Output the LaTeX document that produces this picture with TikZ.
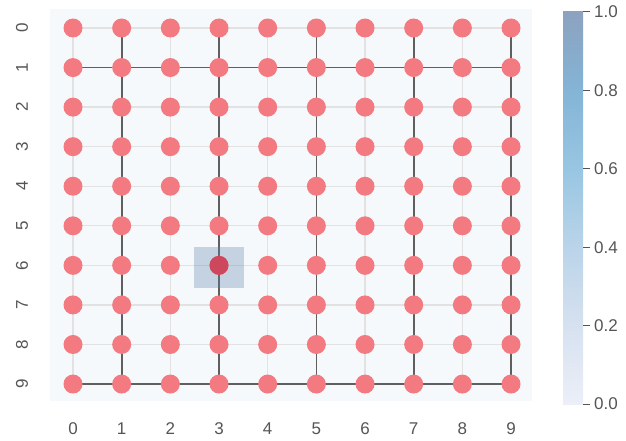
\documentclass[tikz,border=0pt]{standalone}
\usepackage{fontspec}
\setmainfont{Liberation Sans}
\definecolor{dotred}{RGB}{242,122,128}
\definecolor{dotdark}{RGB}{205,72,92}
\definecolor{lightgrid}{RGB}{226,226,226}
\definecolor{darkgrid}{RGB}{95,95,95}
\definecolor{bgblue}{RGB}{246,249,252}
\definecolor{hlblue}{RGB}{95,130,170}
\definecolor{labelgray}{RGB}{85,85,85}
\definecolor{cA}{RGB}{236,239,248}
\definecolor{cB}{RGB}{214,225,240}
\definecolor{cC}{RGB}{186,212,233}
\definecolor{cD}{RGB}{152,198,226}
\definecolor{cE}{RGB}{132,180,214}
\definecolor{cF}{RGB}{140,162,192}
\pgfdeclareverticalshading{cbar}{100bp}{color(0bp)=(cA); color(25bp)=(cA); color(35bp)=(cB); color(45bp)=(cC); color(55bp)=(cD); color(65bp)=(cE); color(75bp)=(cF); color(100bp)=(cF)}
\pgfdeclarelayer{bg}
\pgfdeclarelayer{lines}
\pgfsetlayers{bg,lines,main}
\begin{document}
\begin{tikzpicture}[x=1pt,y=-1pt,
  dot/.style={circle, fill=dotred, inner sep=0pt, minimum size=19pt},
  lightline/.style={draw=lightgrid, line width=1.3pt},
  darkline/.style={draw=darkgrid, line width=1.7pt},
  ticklab/.style={font=\fontsize{17}{17}\selectfont, text=labelgray, inner sep=0pt},
  cbtick/.style={draw=labelgray, line width=1pt}]
\useasboundingbox (0,0) rectangle (626,441);
% nodes
\foreach \r in {0,...,9} {
  \foreach \c in {0,...,9} {
    \node[dot] (n\r\c) at ({73+48.67*\c},{28+39.56*\r}) {};
  }
}
\node[dot, fill=dotdark] at (n63) {};
\begin{pgfonlayer}{bg}
  \fill[bgblue] (50,9) rectangle (532,401);
\end{pgfonlayer}
\begin{pgfonlayer}{lines}
  \foreach \r in {0,2,3,4,5,6,7,8} { \draw[lightline] (n\r0.center) -- (n\r9.center); }
  \foreach \c in {0,2,4,6,8} { \draw[lightline] (n0\c.center) -- (n9\c.center); }
  \foreach \r in {1,9} { \draw[darkline] (n\r0.center) -- (n\r9.center); }
  \foreach \c in {1,3,5,7,9} { \draw[darkline] (n0\c.center) -- (n9\c.center); }
  \fill[hlblue, opacity=0.32] (194,247) rectangle (244,288);
\end{pgfonlayer}
% tick labels
\foreach \r in {0,...,9} { \node[ticklab, rotate=90] (yl\r) at (22,{28+39.56*\r}) {\r}; }
\foreach \c in {0,...,9} { \node[ticklab] (xl\c) at ({73+48.67*\c},429) {\c}; }
% colorbar
\shade[shading=cbar] (563,12) rectangle (583,404);
\foreach \v/\y in {0.0/404,0.2/325.6,0.4/247.2,0.6/168.8,0.8/90.4,1.0/12} {
  \draw[cbtick] (583,\y) -- (590,\y);
  \node[ticklab, anchor=west] (cb\v) at (594,\y) {\v};
}
\end{tikzpicture}
\end{document}
